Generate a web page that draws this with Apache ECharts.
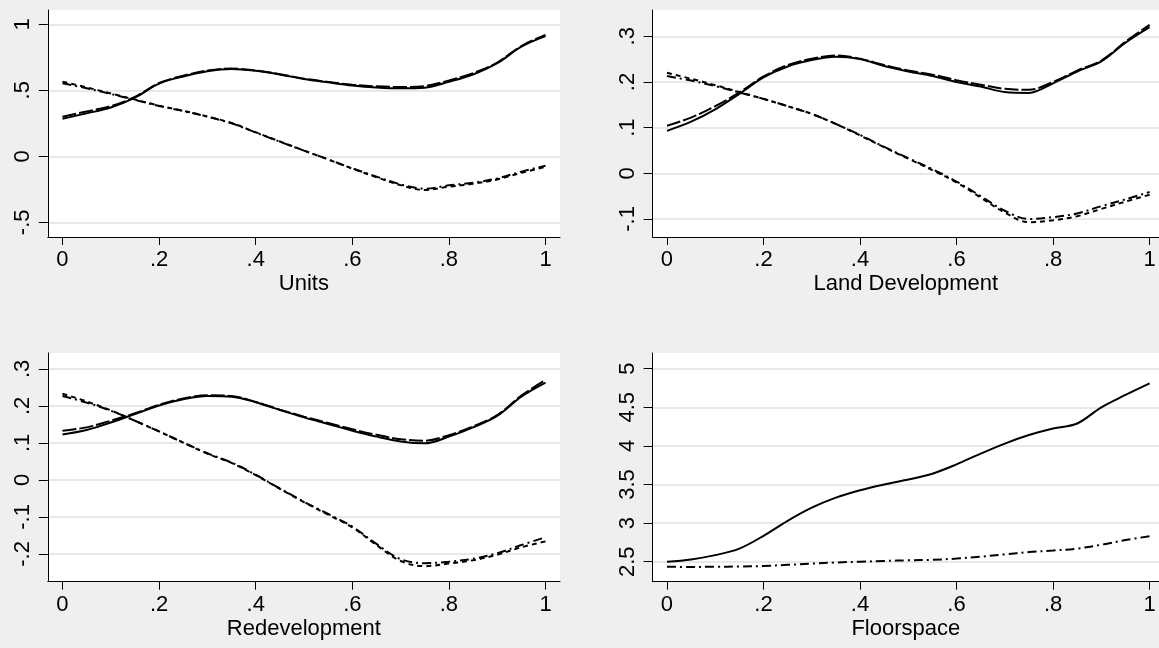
<!DOCTYPE html>
<html>
<head>
<meta charset="utf-8">
<script src="https://cdn.jsdelivr.net/npm/echarts@6/dist/echarts.min.js"></script>
<style>
html,body{margin:0;padding:0;background:#efefef;}
#chart{width:1159px;height:648px;}
</style>
</head>
<body>
<div id="chart"></div>
<script>
// ---- data ----
const xs = [0,0.05,0.1,0.15,0.2,0.25,0.3,0.35,0.4,0.45,0.5,0.55,0.6,0.65,0.7,0.75,0.8,0.85,0.9,0.95,1];
const xTicks = [0,0.2,0.4,0.6,0.8,1];
const xTickLabels = ['0','.2','.4','.6','.8','1'];

const panelTitles = ['Units','Land Development','Redevelopment','Floorspace'];

// Units
const unitsSolid   = [0.285,0.325,0.37,0.445,0.55,0.605,0.645,0.662,0.648,0.62,0.585,0.56,0.537,0.522,0.515,0.52,0.565,0.62,0.705,0.83,0.91];
const unitsLong    = [0.30,0.34,0.38,0.45,0.555,0.61,0.65,0.665,0.65,0.622,0.588,0.563,0.542,0.53,0.525,0.532,0.575,0.63,0.71,0.835,0.92];
const unitsDashDot = [0.553,0.515,0.472,0.427,0.381,0.343,0.30,0.25,0.18,0.111,0.043,-0.023,-0.091,-0.154,-0.212,-0.245,-0.22,-0.20,-0.167,-0.116,-0.071];
const unitsShort   = [0.565,0.522,0.476,0.43,0.384,0.345,0.302,0.252,0.182,0.112,0.044,-0.024,-0.093,-0.158,-0.218,-0.255,-0.23,-0.208,-0.175,-0.125,-0.08];
const unitsYTicks  = [-0.5,0,0.5,1];
const unitsYLabels = ['-.5','0','.5','1'];

// Land Development
const landSolid    = [0.093,0.113,0.14,0.174,0.21,0.234,0.248,0.255,0.25,0.235,0.223,0.213,0.20,0.19,0.178,0.176,0.197,0.223,0.245,0.286,0.32];
const landLong     = [0.104,0.122,0.147,0.177,0.212,0.237,0.251,0.258,0.251,0.237,0.225,0.216,0.204,0.194,0.185,0.183,0.20,0.225,0.247,0.288,0.325];
const landDashDot  = [0.213,0.203,0.191,0.177,0.163,0.147,0.13,0.108,0.084,0.058,0.033,0.009,-0.018,-0.05,-0.082,-0.10,-0.096,-0.088,-0.072,-0.057,-0.041];
const landShort    = [0.22,0.207,0.193,0.178,0.163,0.147,0.13,0.108,0.083,0.057,0.032,0.007,-0.02,-0.053,-0.086,-0.107,-0.103,-0.094,-0.078,-0.062,-0.047];
const landYTicks   = [-0.1,0,0.1,0.2,0.3];
const landYLabels  = ['-.1','0','.1','.2','.3'];

// Redevelopment
const redevSolid   = [0.123,0.135,0.155,0.178,0.201,0.218,0.227,0.225,0.21,0.189,0.169,0.151,0.133,0.117,0.104,0.099,0.117,0.142,0.173,0.225,0.263];
const redevLong    = [0.133,0.142,0.16,0.18,0.203,0.22,0.229,0.227,0.211,0.19,0.171,0.154,0.137,0.122,0.11,0.106,0.121,0.145,0.175,0.228,0.27];
const redevDashDot = [0.227,0.209,0.187,0.16,0.131,0.101,0.072,0.047,0.014,-0.023,-0.059,-0.092,-0.126,-0.173,-0.214,-0.225,-0.221,-0.213,-0.198,-0.176,-0.155];
const redevShort   = [0.233,0.212,0.188,0.16,0.131,0.101,0.071,0.046,0.013,-0.024,-0.06,-0.094,-0.128,-0.176,-0.219,-0.233,-0.226,-0.217,-0.202,-0.182,-0.166];
const redevYTicks  = [-0.2,-0.1,0,0.1,0.2,0.3];
const redevYLabels = ['-.2','-.1','0','.1','.2','.3'];

// Floorspace
const floorSolid   = [2.5,2.53,2.585,2.67,2.835,3.03,3.2,3.33,3.425,3.5,3.565,3.64,3.76,3.9,4.03,4.14,4.225,4.29,4.5,4.66,4.81];
const floorDashDot = [2.435,2.432,2.435,2.438,2.445,2.46,2.475,2.49,2.5,2.51,2.518,2.525,2.54,2.565,2.595,2.625,2.645,2.67,2.72,2.78,2.83];
const floorYTicks  = [2.5,3,3.5,4,4.5,5];
const floorYLabels = ['2.5','3','3.5','4','4.5','5'];

// ---- layout / style ----
const FONT = 'Liberation Sans, Arial, sans-serif';
const FS = 22;
const grids = [
  {left:47.8, top:10,  width:512.2, height:227},
  {left:652.6,top:10,  width:506.4, height:227},
  {left:47.8, top:353, width:512.2, height:228.7},
  {left:652.6,top:353, width:506.4, height:228.7}
];
const xRanges = [[-0.0304,1.030],[-0.0298,1.0195],[-0.0304,1.030],[-0.0298,1.0195]];
const yRanges = [[-0.611,1.108],[-0.1395,0.3576],[-0.275,0.343],[2.241,5.203]];
const yTicksAll = [unitsYTicks, landYTicks, redevYTicks, floorYTicks];
const yLabelsAll = [unitsYLabels, landYLabels, redevYLabels, floorYLabels];

const styles = {
  solid:   'solid',
  long:    [14,3],
  dashdot: [9,4,2,4],
  short:   [5,4]
};

const panelSeries = [
  [[unitsSolid,'solid'],[unitsLong,'long'],[unitsDashDot,'dashdot'],[unitsShort,'short']],
  [[landSolid,'solid'],[landLong,'long'],[landDashDot,'dashdot'],[landShort,'short']],
  [[redevSolid,'solid'],[redevLong,'long'],[redevDashDot,'dashdot'],[redevShort,'short']],
  [[floorSolid,'solid'],[floorDashDot,'dashdot']]
];

function fmt(list){ return function(v){ const i = list.values.findIndex(t=>Math.abs(t-v)<1e-9); return i>=0 ? list.labels[i] : ''; }; }

const xAxis = [], yAxis = [], series = [];
grids.forEach((g,i)=>{
  xAxis.push({
    type:'value', gridIndex:i, min:xRanges[i][0], max:xRanges[i][1],
    name: panelTitles[i], nameLocation:'middle', nameGap:36,
    nameTextStyle:{fontFamily:FONT,fontSize:FS,color:'#000'},
    axisLine:{show:true,onZero:false,lineStyle:{color:'#000',width:1}},
    axisTick:{show:true,length:8,lineStyle:{color:'#000'},customValues:xTicks},
    axisLabel:{show:true,margin:12,fontFamily:FONT,fontSize:FS,color:'#000',customValues:xTicks,
      formatter:fmt({values:xTicks,labels:xTickLabels})},
    splitLine:{show:false}
  });
  yAxis.push({
    type:'value', gridIndex:i, min:yRanges[i][0], max:yRanges[i][1],
    axisLine:{show:true,onZero:false,lineStyle:{color:'#000',width:1}},
    axisTick:{show:true,length:9,lineStyle:{color:'#000'},customValues:yTicksAll[i]},
    axisLabel:{show:true,rotate:90,margin:14,fontFamily:FONT,fontSize:FS,color:'#000',customValues:yTicksAll[i],
      formatter:fmt({values:yTicksAll[i],labels:yLabelsAll[i]})},
    splitLine:{show:true,lineStyle:{color:'#e8e8e8',width:2}}
  });
  panelSeries[i].forEach(([vals,st],k)=>{
    series.push({
      type:'line', xAxisIndex:i, yAxisIndex:i, name: panelTitles[i]+' '+st,
      data: xs.map((x,j)=>[x, vals[j]]),
      smooth:0.35, showSymbol:false, symbol:'none',
      lineStyle:{color:'#000',width:2,type:styles[st]},
      z: 3 + k
    });
  });
});

const chart = echarts.init(document.getElementById('chart'), null, {renderer:'canvas'});
chart.setOption({
  animation:false,
  backgroundColor:'#efefef',
  grid: grids.map(g=>Object.assign({show:true,backgroundColor:'#ffffff',borderWidth:0,containLabel:false},g)),
  xAxis, yAxis, series
});
</script>
</body>
</html>
